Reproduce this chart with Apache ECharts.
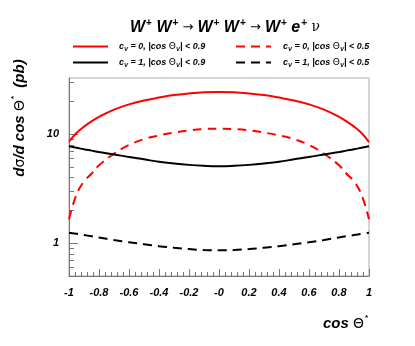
<!DOCTYPE html>
<html>
<head>
<meta charset="utf-8">
<script src="https://cdn.jsdelivr.net/npm/echarts@6/dist/echarts.min.js"></script>
<style>
html, body { margin: 0; padding: 0; background: #fff; }
#chart { width: 415px; height: 346px; }
</style>
</head>
<body>
<div id="chart"></div>
<script>
var cosTheta = [-1, -0.95, -0.9, -0.85, -0.8, -0.7, -0.6, -0.5, -0.4, -0.3, -0.2, -0.1, 0,
                0.1, 0.2, 0.3, 0.4, 0.5, 0.6, 0.7, 0.8, 0.85, 0.9, 0.95, 1];
// cV = 0, |cos ThetaV| < 0.9
var cv0cut09 = [8.6, 10.3, 11.8, 13.2, 14.5, 16.9, 18.9, 20.5, 21.8, 23.0, 23.8, 24.4, 24.6,
                24.4, 23.8, 23.0, 21.8, 20.5, 18.9, 16.9, 14.5, 13.2, 11.8, 10.3, 8.5];
// cV = 0, |cos ThetaV| < 0.5
var cv0cut05 = [1.66, 2.8, 3.7, 4.35, 5.2, 6.65, 8.0, 9.05, 9.8, 10.4, 10.9, 11.2, 11.3,
                11.2, 10.9, 10.4, 9.8, 9.05, 8.0, 6.65, 5.2, 4.35, 3.7, 2.8, 1.66];
// cV = 1, |cos ThetaV| < 0.9
var cv1cut09 = [7.8, 7.55, 7.3, 7.1, 6.9, 6.55, 6.2, 5.9, 5.6, 5.4, 5.25, 5.15, 5.1,
                5.15, 5.25, 5.4, 5.6, 5.9, 6.2, 6.55, 6.9, 7.1, 7.3, 7.55, 7.8];
// cV = 1, |cos ThetaV| < 0.5
var cv1cut05 = [1.25, 1.22, 1.19, 1.16, 1.13, 1.07, 1.02, 0.98, 0.94, 0.91, 0.885, 0.865, 0.86,
                0.865, 0.885, 0.91, 0.94, 0.98, 1.02, 1.07, 1.13, 1.16, 1.19, 1.22, 1.25];
var yMajor = [1, 10];
var yMinor = [0.6, 0.7, 0.8, 0.9, 2, 3, 4, 5, 6, 7, 8, 9, 20, 30];

var legendText = {
    cv0_09: '{t|c}{s|V}{t| = 0, |cos }{g|Θ}{s|V}{t|| < 0.9}',
    cv0_05: '{t|c}{s|V}{t| = 0, |cos }{g|Θ}{s|V}{t|| < 0.5}',
    cv1_09: '{t|c}{s|V}{t| = 1, |cos }{g|Θ}{s|V}{t|| < 0.9}',
    cv1_05: '{t|c}{s|V}{t| = 1, |cos }{g|Θ}{s|V}{t|| < 0.5}'
};

function pairs(ys) {
    return cosTheta.map(function (x, i) { return [x, ys[i]]; });
}

var font = 'Liberation Sans, Arial, sans-serif';
var legendRich = {
    t: { fontFamily: font, fontSize: 9, fontWeight: 'bold', fontStyle: 'italic', color: '#000' },
    s: { fontFamily: font, fontSize: 6, fontWeight: 'bold', fontStyle: 'italic', color: '#000', padding: [5, 0, 0, 0] },
    g: { fontFamily: 'DejaVu Sans', fontSize: 9, color: '#000' }
};

function lineSeries(name, data, color, dashed) {
    return {
        name: name,
        type: 'line',
        data: pairs(data),
        smooth: 0.4,
        showSymbol: false,
        symbol: 'none',
        lineStyle: { color: color, width: 2, type: dashed ? [9, 6] : 'solid' },
        itemStyle: { color: color }
    };
}

function legendBlock(left, items, pad) {
    return {
        data: items,
        orient: 'vertical',
        left: left,
        top: 37,
        itemWidth: 35,
        itemHeight: 10,
        itemGap: 6,
        itemStyle: { color: 'transparent', borderWidth: 0 },
        formatter: function (n) { return legendText[n]; },
        textStyle: { rich: legendRich, padding: [0, 0, 0, pad] }
    };
}

var chart = echarts.init(document.getElementById('chart'));
chart.setOption({
    animation: false,
    title: [{
        text: '{w|W}{p|+}{w| W}{p|+}{a| → }{w|W}{p|+}{w| W}{p|+}{a| → }{w|W}{p|+}{w| e}{p|+}{n| ν}',
        left: 125,
        top: 13,
        textStyle: {
            rich: {
                w: { fontFamily: font, fontSize: 16, fontWeight: 'bold', fontStyle: 'italic', color: '#000' },
                p: { fontFamily: font, fontSize: 10, fontWeight: 'bold', color: '#000', padding: [0, 0, 9, 1] },
                a: { fontFamily: 'DejaVu Sans', fontSize: 13, fontWeight: 'normal', color: '#000' },
                n: { fontFamily: 'DejaVu Serif', fontSize: 14, fontWeight: 'normal', color: '#000' }
            }
        }
    }, {
        text: '{c|cos }{g|Θ}{p|*}',
        left: 318,
        top: 309,
        textStyle: {
            rich: {
                c: { fontFamily: font, fontSize: 15, fontWeight: 'bold', fontStyle: 'italic', color: '#000' },
                g: { fontFamily: 'DejaVu Sans', fontSize: 14, fontWeight: 'normal', color: '#000' },
                p: { fontFamily: font, fontSize: 8, fontWeight: 'bold', color: '#000', padding: [0, 0, 12, 1] }
            }
        }
    }],
    graphic: [{
        type: 'text',
        x: 20,
        y: 118,
        rotation: Math.PI / 2,
        style: {
            text: '{t|d}{g|σ}{t|/d cos }{g|Θ}{p|*}{t|  (pb)}',
            align: 'center',
            verticalAlign: 'middle',
            rich: {
                t: { fontFamily: font, fontSize: 15, fontWeight: 'bold', fontStyle: 'italic', fill: '#000' },
                g: { fontFamily: 'DejaVu Sans', fontSize: 14, fill: '#000' },
                p: { fontFamily: font, fontSize: 8, fontWeight: 'bold', fill: '#000', padding: [0, 0, 12, 1] }
            }
        }
    }],
    legend: [
        legendBlock(67, ['cv0_09', 'cv1_09'], 6),
        legendBlock(230, ['cv0_05', 'cv1_05'], 7)
    ],
    grid: {
        left: 69, right: 46, top: 78, bottom: 70,
        show: true, borderColor: '#aaa', borderWidth: 1, backgroundColor: '#fff'
    },
    xAxis: {
        type: 'value',
        min: -1,
        max: 1,
        interval: 0.2,
        axisLine: { onZero: false, lineStyle: { color: '#777' } },
        axisTick: { inside: true, length: 7, lineStyle: { color: '#777' } },
        minorTick: { show: true, splitNumber: 5, length: 4, lineStyle: { color: '#777' } },
        splitLine: { show: false },
        axisLabel: {
            margin: 11,
            fontFamily: font, fontSize: 11, fontWeight: 'bold', fontStyle: 'italic', color: '#000',
            formatter: function (v) {
                v = Math.round(v * 10) / 10;
                return v === 0 ? '-0' : String(v);
            }
        }
    },
    yAxis: [{
        type: 'log',
        logBase: 10,
        min: 0.5,
        max: 33,
        position: 'left',
        axisLine: { show: true, onZero: false, lineStyle: { color: '#777' } },
        axisTick: { show: true, inside: true, length: 9, customValues: yMajor, lineStyle: { color: '#777' } },
        splitLine: { show: false },
        axisLabel: {
            customValues: yMajor,
            margin: 10,
            fontFamily: font, fontSize: 11, fontWeight: 'bold', fontStyle: 'italic', color: '#000'
        }
    }, {
        type: 'log',
        logBase: 10,
        min: 0.5,
        max: 33,
        position: 'left',
        axisLine: { show: false, onZero: false },
        axisTick: { show: true, inside: true, length: 5, customValues: yMinor, lineStyle: { color: '#777' } },
        splitLine: { show: false },
        axisLabel: { show: false }
    }],
    series: [
        lineSeries('cv0_09', cv0cut09, '#ff0000', false),
        lineSeries('cv0_05', cv0cut05, '#ff0000', true),
        lineSeries('cv1_09', cv1cut09, '#000000', false),
        lineSeries('cv1_05', cv1cut05, '#000000', true)
    ]
});
</script>
</body>
</html>
